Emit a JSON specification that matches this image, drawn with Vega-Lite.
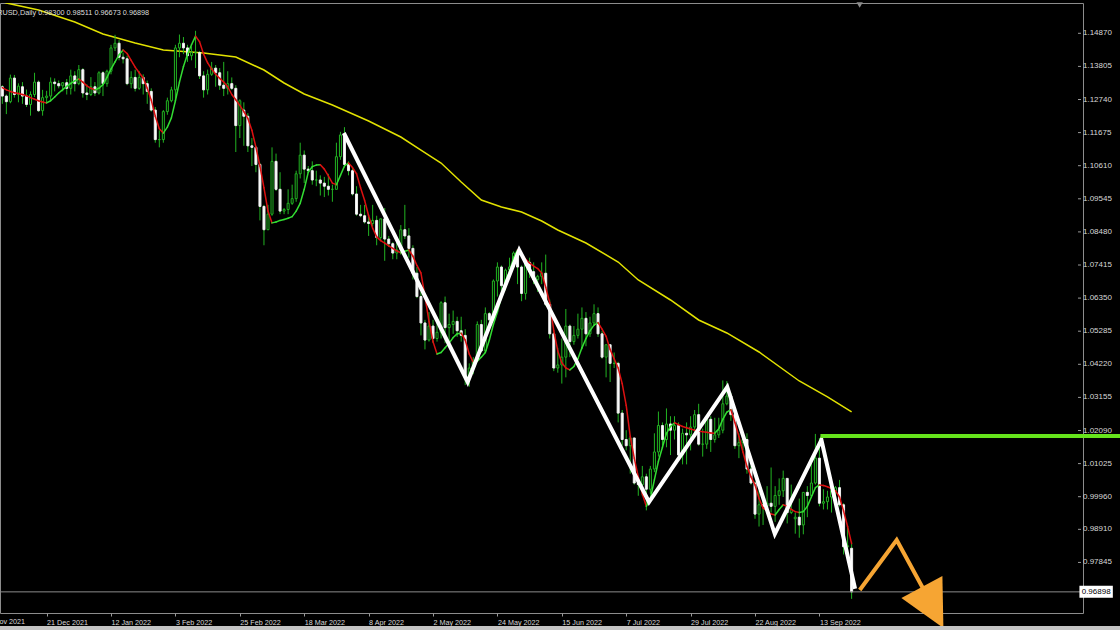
{
"$schema":"https://vega.github.io/schema/vega-lite/v6.json",
"width":1083,"height":610,
"autosize":{"type":"none"},
"padding":{"left":0,"top":3,"right":37,"bottom":17},
"background":"#000000",
"config":{"view":{"stroke":"#8c8c8c","strokeWidth":1},"font":"Liberation Sans","axis":{"labelOverlap":false,"labelBound":false}},
"datasets":{
"candles":[
{"d":"2021-12-06","i":5,"o":1.1315,"h":1.132,"l":1.126,"c":1.1285,"m":1.1312},
{"d":"2021-12-07","i":6,"o":1.1285,"h":1.129,"l":1.1227,"c":1.1267,"m":1.1305},
{"d":"2021-12-08","i":7,"o":1.1267,"h":1.1354,"l":1.1262,"c":1.1343,"m":1.13},
{"d":"2021-12-09","i":8,"o":1.1343,"h":1.1353,"l":1.128,"c":1.129,"m":1.1296},
{"d":"2021-12-10","i":9,"o":1.129,"h":1.1326,"l":1.1265,"c":1.1317,"m":1.1293},
{"d":"2021-12-13","i":10,"o":1.1315,"h":1.133,"l":1.126,"c":1.1285,"m":1.129},
{"d":"2021-12-14","i":11,"o":1.1285,"h":1.1306,"l":1.125,"c":1.1258,"m":1.1286},
{"d":"2021-12-15","i":12,"o":1.1258,"h":1.13,"l":1.1222,"c":1.129,"m":1.128},
{"d":"2021-12-16","i":13,"o":1.129,"h":1.136,"l":1.1282,"c":1.133,"m":1.1275},
{"d":"2021-12-17","i":14,"o":1.133,"h":1.1335,"l":1.1234,"c":1.1238,"m":1.127},
{"d":"2021-12-20","i":15,"o":1.1238,"h":1.1305,"l":1.1222,"c":1.128,"m":1.1266},
{"d":"2021-12-21","i":16,"o":1.128,"h":1.1302,"l":1.1262,"c":1.1285,"m":1.1263},
{"d":"2021-12-22","i":17,"o":1.1285,"h":1.1345,"l":1.127,"c":1.133,"m":1.127},
{"d":"2021-12-23","i":18,"o":1.133,"h":1.1342,"l":1.13,"c":1.1325,"m":1.1282},
{"d":"2021-12-24","i":19,"o":1.1325,"h":1.1335,"l":1.131,"c":1.1318,"m":1.1295},
{"d":"2021-12-27","i":20,"o":1.1318,"h":1.133,"l":1.13,"c":1.1328,"m":1.1306},
{"d":"2021-12-28","i":21,"o":1.1328,"h":1.134,"l":1.129,"c":1.131,"m":1.1316},
{"d":"2021-12-29","i":22,"o":1.131,"h":1.137,"l":1.129,"c":1.135,"m":1.1326},
{"d":"2021-12-30","i":23,"o":1.135,"h":1.1365,"l":1.13,"c":1.1325,"m":1.1334},
{"d":"2021-12-31","i":24,"o":1.1325,"h":1.1385,"l":1.132,"c":1.137,"m":1.134},
{"d":"2022-01-03","i":25,"o":1.137,"h":1.1375,"l":1.128,"c":1.1295,"m":1.133},
{"d":"2022-01-04","i":26,"o":1.1295,"h":1.1323,"l":1.1272,"c":1.129,"m":1.1318},
{"d":"2022-01-05","i":27,"o":1.129,"h":1.1346,"l":1.1285,"c":1.1315,"m":1.131},
{"d":"2022-01-06","i":28,"o":1.1315,"h":1.133,"l":1.1285,"c":1.1295,"m":1.1305},
{"d":"2022-01-07","i":29,"o":1.1295,"h":1.1365,"l":1.129,"c":1.136,"m":1.131},
{"d":"2022-01-10","i":30,"o":1.136,"h":1.1365,"l":1.1285,"c":1.1325,"m":1.1322},
{"d":"2022-01-11","i":31,"o":1.1325,"h":1.137,"l":1.1315,"c":1.1365,"m":1.1345},
{"d":"2022-01-12","i":32,"o":1.1365,"h":1.145,"l":1.1355,"c":1.144,"m":1.1372},
{"d":"2022-01-13","i":33,"o":1.144,"h":1.1482,"l":1.143,"c":1.1455,"m":1.1395},
{"d":"2022-01-14","i":34,"o":1.1455,"h":1.1465,"l":1.14,"c":1.141,"m":1.1418},
{"d":"2022-01-17","i":35,"o":1.141,"h":1.1425,"l":1.139,"c":1.1405,"m":1.1433},
{"d":"2022-01-18","i":36,"o":1.1405,"h":1.1415,"l":1.132,"c":1.1325,"m":1.1422},
{"d":"2022-01-19","i":37,"o":1.1325,"h":1.1365,"l":1.131,"c":1.1345,"m":1.14},
{"d":"2022-01-20","i":38,"o":1.1345,"h":1.137,"l":1.13,"c":1.131,"m":1.1378},
{"d":"2022-01-21","i":39,"o":1.131,"h":1.1365,"l":1.1305,"c":1.1345,"m":1.136},
{"d":"2022-01-24","i":40,"o":1.1345,"h":1.1355,"l":1.129,"c":1.1325,"m":1.1343},
{"d":"2022-01-25","i":41,"o":1.1325,"h":1.1335,"l":1.126,"c":1.13,"m":1.131},
{"d":"2022-01-26","i":42,"o":1.13,"h":1.131,"l":1.1235,"c":1.124,"m":1.1272},
{"d":"2022-01-27","i":43,"o":1.124,"h":1.125,"l":1.1135,"c":1.1145,"m":1.122},
{"d":"2022-01-28","i":44,"o":1.1145,"h":1.1175,"l":1.112,"c":1.1145,"m":1.118},
{"d":"2022-01-31","i":45,"o":1.1145,"h":1.124,"l":1.1135,"c":1.1235,"m":1.1166},
{"d":"2022-02-01","i":46,"o":1.1235,"h":1.128,"l":1.1225,"c":1.127,"m":1.1185},
{"d":"2022-02-02","i":47,"o":1.127,"h":1.1315,"l":1.1265,"c":1.1305,"m":1.1215},
{"d":"2022-02-03","i":48,"o":1.1305,"h":1.145,"l":1.1265,"c":1.144,"m":1.127},
{"d":"2022-02-04","i":49,"o":1.144,"h":1.1483,"l":1.141,"c":1.1455,"m":1.133},
{"d":"2022-02-07","i":50,"o":1.1455,"h":1.1475,"l":1.142,"c":1.144,"m":1.138},
{"d":"2022-02-08","i":51,"o":1.144,"h":1.145,"l":1.1395,"c":1.1415,"m":1.142},
{"d":"2022-02-09","i":52,"o":1.1415,"h":1.1445,"l":1.14,"c":1.1425,"m":1.145},
{"d":"2022-02-10","i":53,"o":1.1425,"h":1.1495,"l":1.1375,"c":1.1425,"m":1.1478},
{"d":"2022-02-11","i":54,"o":1.1425,"h":1.143,"l":1.134,"c":1.135,"m":1.146},
{"d":"2022-02-14","i":55,"o":1.135,"h":1.1365,"l":1.128,"c":1.1305,"m":1.142},
{"d":"2022-02-15","i":56,"o":1.1305,"h":1.137,"l":1.129,"c":1.1355,"m":1.1392},
{"d":"2022-02-16","i":57,"o":1.1355,"h":1.1395,"l":1.135,"c":1.1375,"m":1.1372},
{"d":"2022-02-17","i":58,"o":1.1375,"h":1.1385,"l":1.1315,"c":1.136,"m":1.1355},
{"d":"2022-02-18","i":59,"o":1.136,"h":1.1375,"l":1.1305,"c":1.132,"m":1.1342},
{"d":"2022-02-21","i":60,"o":1.132,"h":1.1395,"l":1.1285,"c":1.131,"m":1.133},
{"d":"2022-02-22","i":61,"o":1.131,"h":1.1365,"l":1.129,"c":1.1325,"m":1.1315},
{"d":"2022-02-23","i":62,"o":1.1325,"h":1.1345,"l":1.1305,"c":1.131,"m":1.129},
{"d":"2022-02-24","i":63,"o":1.131,"h":1.132,"l":1.1105,"c":1.119,"m":1.1273},
{"d":"2022-02-25","i":64,"o":1.119,"h":1.1275,"l":1.115,"c":1.127,"m":1.1255},
{"d":"2022-02-28","i":65,"o":1.124,"h":1.1265,"l":1.1125,"c":1.122,"m":1.1235},
{"d":"2022-03-01","i":66,"o":1.122,"h":1.123,"l":1.1105,"c":1.1125,"m":1.1213},
{"d":"2022-03-02","i":67,"o":1.1125,"h":1.115,"l":1.106,"c":1.112,"m":1.1175},
{"d":"2022-03-03","i":68,"o":1.112,"h":1.1125,"l":1.104,"c":1.1065,"m":1.1121},
{"d":"2022-03-04","i":69,"o":1.1065,"h":1.107,"l":1.0885,"c":1.093,"m":1.106},
{"d":"2022-03-07","i":70,"o":1.093,"h":1.0935,"l":1.0805,"c":1.0855,"m":1.099},
{"d":"2022-03-08","i":71,"o":1.0855,"h":1.0935,"l":1.0855,"c":1.0905,"m":1.0915},
{"d":"2022-03-09","i":72,"o":1.0905,"h":1.112,"l":1.09,"c":1.1075,"m":1.0877},
{"d":"2022-03-10","i":73,"o":1.1075,"h":1.11,"l":1.098,"c":1.0985,"m":1.088},
{"d":"2022-03-11","i":74,"o":1.0985,"h":1.104,"l":1.0905,"c":1.0915,"m":1.0885},
{"d":"2022-03-13","i":75,"o":1.0915,"h":1.0925,"l":1.0905,"c":1.092,"m":1.0888},
{"d":"2022-03-14","i":76,"o":1.092,"h":1.0985,"l":1.0905,"c":1.094,"m":1.0892},
{"d":"2022-03-15","i":77,"o":1.094,"h":1.1,"l":1.0935,"c":1.0955,"m":1.0897},
{"d":"2022-03-16","i":78,"o":1.0955,"h":1.1045,"l":1.0945,"c":1.1035,"m":1.0915},
{"d":"2022-03-17","i":79,"o":1.1035,"h":1.1135,"l":1.102,"c":1.1095,"m":1.094},
{"d":"2022-03-18","i":80,"o":1.1095,"h":1.111,"l":1.1005,"c":1.105,"m":1.0985},
{"d":"2022-03-20","i":81,"o":1.105,"h":1.106,"l":1.104,"c":1.1045,"m":1.104},
{"d":"2022-03-21","i":82,"o":1.1045,"h":1.1075,"l":1.1,"c":1.1015,"m":1.1058},
{"d":"2022-03-22","i":83,"o":1.1015,"h":1.1045,"l":1.0995,"c":1.1015,"m":1.1063},
{"d":"2022-03-23","i":84,"o":1.1015,"h":1.103,"l":1.0965,"c":1.1005,"m":1.1064},
{"d":"2022-03-24","i":85,"o":1.1005,"h":1.1025,"l":1.096,"c":1.0995,"m":1.105},
{"d":"2022-03-25","i":86,"o":1.0995,"h":1.1035,"l":1.0965,"c":1.0985,"m":1.1028},
{"d":"2022-03-28","i":87,"o":1.0985,"h":1.1,"l":1.0945,"c":1.0985,"m":1.1005},
{"d":"2022-03-29","i":88,"o":1.0985,"h":1.1135,"l":1.0985,"c":1.109,"m":1.1},
{"d":"2022-03-30","i":89,"o":1.109,"h":1.117,"l":1.108,"c":1.116,"m":1.103},
{"d":"2022-03-31","i":90,"o":1.116,"h":1.1185,"l":1.1055,"c":1.1065,"m":1.106},
{"d":"2022-04-01","i":91,"o":1.1065,"h":1.1075,"l":1.103,"c":1.1045,"m":1.107},
{"d":"2022-04-04","i":92,"o":1.1045,"h":1.1055,"l":1.0965,"c":1.097,"m":1.1055},
{"d":"2022-04-05","i":93,"o":1.097,"h":1.0995,"l":1.09,"c":1.0905,"m":1.1035},
{"d":"2022-04-06","i":94,"o":1.0905,"h":1.0935,"l":1.0895,"c":1.09,"m":1.099},
{"d":"2022-04-07","i":95,"o":1.09,"h":1.0935,"l":1.0875,"c":1.088,"m":1.095},
{"d":"2022-04-08","i":96,"o":1.088,"h":1.0905,"l":1.0835,"c":1.0875,"m":1.09},
{"d":"2022-04-11","i":97,"o":1.0875,"h":1.0935,"l":1.0865,"c":1.0885,"m":1.086},
{"d":"2022-04-12","i":98,"o":1.0885,"h":1.09,"l":1.0805,"c":1.083,"m":1.0832},
{"d":"2022-04-13","i":99,"o":1.083,"h":1.089,"l":1.082,"c":1.089,"m":1.082},
{"d":"2022-04-14","i":100,"o":1.089,"h":1.0925,"l":1.0755,"c":1.0825,"m":1.0812},
{"d":"2022-04-15","i":101,"o":1.0825,"h":1.0835,"l":1.08,"c":1.081,"m":1.0803},
{"d":"2022-04-18","i":102,"o":1.081,"h":1.0815,"l":1.076,"c":1.078,"m":1.0795},
{"d":"2022-04-19","i":103,"o":1.078,"h":1.082,"l":1.076,"c":1.079,"m":1.0787},
{"d":"2022-04-20","i":104,"o":1.079,"h":1.087,"l":1.0775,"c":1.0855,"m":1.0781},
{"d":"2022-04-21","i":105,"o":1.0855,"h":1.0935,"l":1.0825,"c":1.0835,"m":1.0786},
{"d":"2022-04-22","i":106,"o":1.0835,"h":1.086,"l":1.0765,"c":1.0795,"m":1.079},
{"d":"2022-04-25","i":107,"o":1.0795,"h":1.0805,"l":1.0695,"c":1.0715,"m":1.077},
{"d":"2022-04-26","i":108,"o":1.0715,"h":1.0735,"l":1.0635,"c":1.064,"m":1.074},
{"d":"2022-04-27","i":109,"o":1.064,"h":1.0655,"l":1.0515,"c":1.0555,"m":1.0716},
{"d":"2022-04-28","i":110,"o":1.0555,"h":1.0565,"l":1.047,"c":1.05,"m":1.064},
{"d":"2022-04-29","i":111,"o":1.05,"h":1.059,"l":1.0495,"c":1.0545,"m":1.056},
{"d":"2022-05-02","i":112,"o":1.0545,"h":1.0565,"l":1.049,"c":1.0505,"m":1.0495},
{"d":"2022-05-03","i":113,"o":1.0505,"h":1.0575,"l":1.0495,"c":1.0525,"m":1.0455},
{"d":"2022-05-04","i":114,"o":1.0525,"h":1.0625,"l":1.0505,"c":1.062,"m":1.046},
{"d":"2022-05-05","i":115,"o":1.062,"h":1.064,"l":1.049,"c":1.054,"m":1.0475},
{"d":"2022-05-06","i":116,"o":1.054,"h":1.0585,"l":1.0485,"c":1.055,"m":1.049},
{"d":"2022-05-09","i":117,"o":1.055,"h":1.0595,"l":1.052,"c":1.056,"m":1.0508},
{"d":"2022-05-10","i":118,"o":1.056,"h":1.0575,"l":1.051,"c":1.053,"m":1.052},
{"d":"2022-05-11","i":119,"o":1.053,"h":1.0575,"l":1.0495,"c":1.0515,"m":1.0522},
{"d":"2022-05-12","i":120,"o":1.0515,"h":1.0535,"l":1.0355,"c":1.038,"m":1.05},
{"d":"2022-05-13","i":121,"o":1.038,"h":1.0425,"l":1.035,"c":1.041,"m":1.0455},
{"d":"2022-05-16","i":122,"o":1.041,"h":1.0445,"l":1.039,"c":1.0435,"m":1.0428},
{"d":"2022-05-17","i":123,"o":1.0435,"h":1.056,"l":1.043,"c":1.055,"m":1.0432},
{"d":"2022-05-18","i":124,"o":1.055,"h":1.0565,"l":1.046,"c":1.0465,"m":1.0445},
{"d":"2022-05-19","i":125,"o":1.0465,"h":1.0605,"l":1.046,"c":1.0585,"m":1.046},
{"d":"2022-05-20","i":126,"o":1.0585,"h":1.059,"l":1.053,"c":1.0565,"m":1.05},
{"d":"2022-05-23","i":127,"o":1.0565,"h":1.0695,"l":1.056,"c":1.069,"m":1.055},
{"d":"2022-05-24","i":128,"o":1.069,"h":1.075,"l":1.064,"c":1.0735,"m":1.059},
{"d":"2022-05-25","i":129,"o":1.0735,"h":1.074,"l":1.064,"c":1.0675,"m":1.064},
{"d":"2022-05-26","i":130,"o":1.0675,"h":1.073,"l":1.066,"c":1.0725,"m":1.069},
{"d":"2022-05-27","i":131,"o":1.0725,"h":1.0765,"l":1.07,"c":1.0735,"m":1.072},
{"d":"2022-05-30","i":132,"o":1.0735,"h":1.0785,"l":1.073,"c":1.078,"m":1.0765},
{"d":"2022-05-31","i":133,"o":1.078,"h":1.0787,"l":1.068,"c":1.0735,"m":1.079},
{"d":"2022-06-01","i":134,"o":1.0735,"h":1.074,"l":1.0625,"c":1.065,"m":1.0775},
{"d":"2022-06-02","i":135,"o":1.065,"h":1.0755,"l":1.063,"c":1.075,"m":1.076},
{"d":"2022-06-03","i":136,"o":1.075,"h":1.0765,"l":1.07,"c":1.072,"m":1.0748},
{"d":"2022-06-06","i":137,"o":1.072,"h":1.075,"l":1.068,"c":1.0695,"m":1.0738},
{"d":"2022-06-07","i":138,"o":1.0695,"h":1.071,"l":1.0655,"c":1.0705,"m":1.073},
{"d":"2022-06-08","i":139,"o":1.0705,"h":1.075,"l":1.068,"c":1.0715,"m":1.0716},
{"d":"2022-06-09","i":140,"o":1.0715,"h":1.0775,"l":1.061,"c":1.0615,"m":1.067},
{"d":"2022-06-10","i":141,"o":1.0615,"h":1.063,"l":1.0505,"c":1.052,"m":1.062},
{"d":"2022-06-13","i":142,"o":1.052,"h":1.0525,"l":1.04,"c":1.041,"m":1.053},
{"d":"2022-06-14","i":143,"o":1.041,"h":1.0475,"l":1.0395,"c":1.042,"m":1.0465},
{"d":"2022-06-15","i":144,"o":1.042,"h":1.0505,"l":1.036,"c":1.0445,"m":1.0427},
{"d":"2022-06-16","i":145,"o":1.0445,"h":1.06,"l":1.038,"c":1.0545,"m":1.041},
{"d":"2022-06-17","i":146,"o":1.0545,"h":1.055,"l":1.0445,"c":1.0495,"m":1.0404},
{"d":"2022-06-20","i":147,"o":1.0495,"h":1.0545,"l":1.0485,"c":1.0515,"m":1.0415},
{"d":"2022-06-21","i":148,"o":1.0515,"h":1.0585,"l":1.0505,"c":1.0535,"m":1.044},
{"d":"2022-06-22","i":149,"o":1.0535,"h":1.0605,"l":1.047,"c":1.057,"m":1.0475},
{"d":"2022-06-23","i":150,"o":1.057,"h":1.059,"l":1.048,"c":1.052,"m":1.0505},
{"d":"2022-06-24","i":151,"o":1.052,"h":1.0575,"l":1.051,"c":1.0555,"m":1.053},
{"d":"2022-06-27","i":152,"o":1.0555,"h":1.0615,"l":1.0545,"c":1.0585,"m":1.0548},
{"d":"2022-06-28","i":153,"o":1.0585,"h":1.0605,"l":1.051,"c":1.052,"m":1.0556},
{"d":"2022-06-29","i":154,"o":1.052,"h":1.053,"l":1.044,"c":1.0445,"m":1.0535},
{"d":"2022-06-30","i":155,"o":1.0445,"h":1.0485,"l":1.038,"c":1.0485,"m":1.0512},
{"d":"2022-07-01","i":156,"o":1.0485,"h":1.0485,"l":1.0365,"c":1.0425,"m":1.047},
{"d":"2022-07-04","i":157,"o":1.0425,"h":1.046,"l":1.041,"c":1.0425,"m":1.044},
{"d":"2022-07-05","i":158,"o":1.0425,"h":1.043,"l":1.0235,"c":1.0265,"m":1.041},
{"d":"2022-07-06","i":159,"o":1.0265,"h":1.0275,"l":1.016,"c":1.018,"m":1.036},
{"d":"2022-07-07","i":160,"o":1.018,"h":1.021,"l":1.0145,"c":1.016,"m":1.029},
{"d":"2022-07-08","i":161,"o":1.016,"h":1.019,"l":1.007,"c":1.0185,"m":1.019},
{"d":"2022-07-11","i":162,"o":1.0185,"h":1.0185,"l":1.0035,"c":1.004,"m":1.012},
{"d":"2022-07-12","i":163,"o":1.004,"h":1.006,"l":0.9999,"c":1.0035,"m":1.006},
{"d":"2022-07-13","i":164,"o":1.0035,"h":1.0095,"l":0.9998,"c":1.006,"m":1.0005},
{"d":"2022-07-14","i":165,"o":1.006,"h":1.007,"l":0.9952,"c":1.002,"m":0.9965},
{"d":"2022-07-15","i":166,"o":1.002,"h":1.0095,"l":1.0005,"c":1.0085,"m":0.999},
{"d":"2022-07-18","i":167,"o":1.0085,"h":1.02,"l":1.0075,"c":1.014,"m":1.005},
{"d":"2022-07-19","i":168,"o":1.014,"h":1.027,"l":1.0125,"c":1.0225,"m":1.011},
{"d":"2022-07-20","i":169,"o":1.0225,"h":1.0235,"l":1.016,"c":1.018,"m":1.0155},
{"d":"2022-07-21","i":170,"o":1.018,"h":1.028,"l":1.0155,"c":1.023,"m":1.02},
{"d":"2022-07-22","i":171,"o":1.023,"h":1.0255,"l":1.013,"c":1.021,"m":1.0222},
{"d":"2022-07-25","i":172,"o":1.021,"h":1.0255,"l":1.018,"c":1.0225,"m":1.0234},
{"d":"2022-07-26","i":173,"o":1.0225,"h":1.0235,"l":1.0125,"c":1.013,"m":1.0228},
{"d":"2022-07-27","i":174,"o":1.013,"h":1.0215,"l":1.01,"c":1.02,"m":1.0222},
{"d":"2022-07-28","i":175,"o":1.02,"h":1.0235,"l":1.01,"c":1.0195,"m":1.0218},
{"d":"2022-07-29","i":176,"o":1.0195,"h":1.0255,"l":1.0145,"c":1.022,"m":1.0214},
{"d":"2022-08-01","i":177,"o":1.022,"h":1.0275,"l":1.0185,"c":1.026,"m":1.021},
{"d":"2022-08-02","i":178,"o":1.026,"h":1.0295,"l":1.016,"c":1.0165,"m":1.0207},
{"d":"2022-08-03","i":179,"o":1.0165,"h":1.0215,"l":1.0125,"c":1.0165,"m":1.0205},
{"d":"2022-08-04","i":180,"o":1.0165,"h":1.0255,"l":1.015,"c":1.0245,"m":1.0203},
{"d":"2022-08-05","i":181,"o":1.0245,"h":1.0255,"l":1.014,"c":1.018,"m":1.0201},
{"d":"2022-08-08","i":182,"o":1.018,"h":1.025,"l":1.017,"c":1.0195,"m":1.02},
{"d":"2022-08-09","i":183,"o":1.0195,"h":1.025,"l":1.0185,"c":1.021,"m":1.0215},
{"d":"2022-08-10","i":184,"o":1.021,"h":1.037,"l":1.02,"c":1.0295,"m":1.0245},
{"d":"2022-08-11","i":185,"o":1.0295,"h":1.0368,"l":1.029,"c":1.032,"m":1.0268},
{"d":"2022-08-12","i":186,"o":1.032,"h":1.033,"l":1.024,"c":1.026,"m":1.0276},
{"d":"2022-08-15","i":187,"o":1.026,"h":1.0265,"l":1.015,"c":1.016,"m":1.0235},
{"d":"2022-08-16","i":188,"o":1.016,"h":1.02,"l":1.012,"c":1.017,"m":1.019},
{"d":"2022-08-17","i":189,"o":1.017,"h":1.02,"l":1.0145,"c":1.018,"m":1.014},
{"d":"2022-08-18","i":190,"o":1.018,"h":1.02,"l":1.007,"c":1.0085,"m":1.0093},
{"d":"2022-08-19","i":191,"o":1.0085,"h":1.0095,"l":1.0035,"c":1.004,"m":1.006},
{"d":"2022-08-22","i":192,"o":1.004,"h":1.0045,"l":0.9925,"c":0.994,"m":1.0034},
{"d":"2022-08-23","i":193,"o":0.994,"h":1.0015,"l":0.99,"c":0.997,"m":0.999},
{"d":"2022-08-24","i":194,"o":0.997,"h":0.9985,"l":0.9905,"c":0.9965,"m":0.996},
{"d":"2022-08-25","i":195,"o":0.9965,"h":1.003,"l":0.995,"c":0.9975,"m":0.995},
{"d":"2022-08-26","i":196,"o":0.9975,"h":1.009,"l":0.9945,"c":0.9965,"m":0.994},
{"d":"2022-08-29","i":197,"o":0.9965,"h":1.003,"l":0.9915,"c":1.0,"m":0.9937},
{"d":"2022-08-30","i":198,"o":1.0,"h":1.0055,"l":0.997,"c":1.0015,"m":0.9955},
{"d":"2022-08-31","i":199,"o":1.0015,"h":1.008,"l":0.9995,"c":1.0055,"m":0.997},
{"d":"2022-09-01","i":200,"o":1.0055,"h":1.0055,"l":0.991,"c":0.9945,"m":0.9965},
{"d":"2022-09-02","i":201,"o":0.9945,"h":1.0035,"l":0.994,"c":0.9955,"m":0.9955},
{"d":"2022-09-05","i":202,"o":0.9925,"h":0.9945,"l":0.9877,"c":0.993,"m":0.9948},
{"d":"2022-09-06","i":203,"o":0.993,"h":0.999,"l":0.9864,"c":0.9905,"m":0.9945},
{"d":"2022-09-07","i":204,"o":0.9905,"h":1.001,"l":0.9875,"c":1.001,"m":0.9948},
{"d":"2022-09-08","i":205,"o":1.001,"h":1.003,"l":0.993,"c":1.0,"m":0.9965},
{"d":"2022-09-09","i":206,"o":1.0,"h":1.011,"l":0.9995,"c":1.004,"m":0.9995},
{"d":"2022-09-12","i":207,"o":1.004,"h":1.0198,"l":1.0035,"c":1.012,"m":1.0025},
{"d":"2022-09-13","i":208,"o":1.012,"h":1.0185,"l":0.9965,"c":0.9975,"m":1.0034},
{"d":"2022-09-14","i":209,"o":0.9975,"h":1.002,"l":0.9955,"c":0.998,"m":1.0032},
{"d":"2022-09-15","i":210,"o":0.998,"h":1.0015,"l":0.9955,"c":0.9995,"m":1.0028},
{"d":"2022-09-16","i":211,"o":0.9995,"h":1.0035,"l":0.9945,"c":1.0015,"m":1.0022},
{"d":"2022-09-19","i":212,"o":1.0015,"h":1.003,"l":0.9965,"c":1.0025,"m":1.0015},
{"d":"2022-09-20","i":213,"o":1.0025,"h":1.005,"l":0.9965,"c":0.997,"m":0.9995},
{"d":"2022-09-21","i":214,"o":0.997,"h":0.9975,"l":0.981,"c":0.9835,"m":0.995},
{"d":"2022-09-22","i":215,"o":0.9835,"h":0.9905,"l":0.981,"c":0.9838,"m":0.99},
{"d":"2022-09-23","i":216,"o":0.983,"h":0.98511,"l":0.96673,"c":0.96898,"m":0.9845}
],
"longma":[
{"i":5,"v":1.159},{"i":6,"v":1.15845},{"i":14,"v":1.1562},{"i":23,"v":1.15234},{"i":30,"v":1.14848},{"i":38,"v":1.14558},{"i":45,"v":1.14333},{"i":55,"v":1.14236},{"i":63,"v":1.14107},{"i":70,"v":1.13689},{"i":75,"v":1.13271},{"i":80,"v":1.12917},{"i":87,"v":1.12563},{"i":96,"v":1.12048},{"i":104,"v":1.11533},{"i":109,"v":1.11115},{"i":114,"v":1.10697},{"i":119,"v":1.10086},{"i":124,"v":1.09506},{"i":129,"v":1.09281},{"i":134,"v":1.09121},{"i":139,"v":1.08831},{"i":143,"v":1.08541},{"i":150,"v":1.08123},{"i":158,"v":1.07512},{"i":163,"v":1.06933},{"i":171,"v":1.06289},{"i":178,"v":1.05646},{"i":185,"v":1.05228},{"i":193,"v":1.04616},{"i":203,"v":1.03683},{"i":210,"v":1.03169},{"i":216,"v":1.02686}
],
"zigzag":[
{"i":89.84,"v":1.11662},{"i":120.61,"v":1.03651},{"i":133.41,"v":1.07898},{"i":165.66,"v":0.99789},{"i":185.11,"v":1.0349},{"i":196.92,"v":0.9876},{"i":208.5,"v":1.01785},{"i":216.86,"v":0.96997}
],
"level":[{"i":208.25,"i2":286,"v":1.01913}],
"forecast":[{"i":218.02,"v":0.96958},{"i":227.2,"v":0.98567},{"i":234.5,"v":0.9683}],
"arrowhead":[{"i":235.25,"v":0.96614}],
"last":[{"price":0.96898,"label":"0.96898"}],
"header":[{"label":"EURUSD,Daily 0.98300 0.98511 0.96673 0.96898"}],
"cutdate":[{"i":0,"label":"29 Nov 2021"}],
"pricescale":[
{"v":0.97845,"t":"0.97845"},{"v":0.9891,"t":"0.98910"},{"v":0.9996,"t":"0.99960"},{"v":1.01025,"t":"1.01025"},{"v":1.0209,"t":"1.02090"},{"v":1.03155,"t":"1.03155"},{"v":1.0422,"t":"1.04220"},{"v":1.05285,"t":"1.05285"},{"v":1.0635,"t":"1.06350"},{"v":1.07415,"t":"1.07415"},{"v":1.0848,"t":"1.08480"},{"v":1.09545,"t":"1.09545"},{"v":1.1061,"t":"1.10610"},{"v":1.11675,"t":"1.11675"},{"v":1.1274,"t":"1.12740"},{"v":1.13805,"t":"1.13805"},{"v":1.1487,"t":"1.14870"}
]
},
"layer":[
{"data":{"name":"longma"},"mark":{"type":"line","color":"#e2e200","strokeWidth":1.5,"clip":true},
"encoding":{
"x":{"field":"i","type":"quantitative","scale":{"domain":[5.66,272.245],"nice":false,"zero":false},
"axis":{"values":[16,32,48,64,80,96,112,128,144,160,176,192,208],
"labelExpr":"['29 Nov 2021','21 Dec 2021','12 Jan 2022','3 Feb 2022','25 Feb 2022','18 Mar 2022','8 Apr 2022','2 May 2022','24 May 2022','15 Jun 2022','7 Jul 2022','29 Jul 2022','22 Aug 2022','13 Sep 2022'][round(datum.value/16)]",
"labelAlign":"left","labelBaseline":"top","labelPadding":2,"labelColor":"#d8d8d8","labelFontSize":7.2,"labelFont":"Liberation Sans","tickColor":"#9a9a9a","tickSize":3,"domain":false,"grid":false,"title":null,"labelOverlap":false,"labelFlush":false}},
"y":{"field":"v","type":"quantitative","scale":{"domain":[0.96218,1.15845],"nice":false,"zero":false},"axis":null}}},
{"data":{"name":"candles"},"mark":{"type":"rule","color":"#22b322","strokeWidth":1,"clip":true},
"encoding":{"x":{"field":"i","type":"quantitative"},"y":{"field":"l","type":"quantitative"},"y2":{"field":"h"}}},
{"data":{"name":"candles"},"mark":{"type":"bar","width":2,"strokeWidth":1,"clip":true},
"encoding":{"x":{"field":"i","type":"quantitative"},"y":{"field":"o","type":"quantitative"},"y2":{"field":"c"},
"fill":{"condition":{"test":"datum.c < datum.o","value":"#ffffff"},"value":"#000000"},
"stroke":{"condition":{"test":"datum.c < datum.o","value":"#eeeeee"},"value":"#22b322"}}},
{"data":{"name":"candles"},
"transform":[{"window":[{"op":"lead","field":"m","as":"m2"},{"op":"lead","field":"i","as":"i2"}],"sort":[{"field":"i","order":"ascending"}]},{"filter":"isValid(datum.m2)"}],
"mark":{"type":"rule","strokeWidth":1.5,"strokeCap":"round","clip":true},
"encoding":{"x":{"field":"i","type":"quantitative"},"x2":{"field":"i2"},"y":{"field":"m","type":"quantitative"},"y2":{"field":"m2"},
"color":{"condition":{"test":"datum.m2 >= datum.m","value":"#33dd33"},"value":"#dd1111"}}},
{"data":{"name":"zigzag"},"mark":{"type":"line","color":"#ffffff","strokeWidth":4,"strokeJoin":"miter","clip":false},
"encoding":{"x":{"field":"i","type":"quantitative"},"y":{"field":"v","type":"quantitative"}}},
{"data":{"name":"last"},"mark":{"type":"rule","color":"#8c8c8c","strokeWidth":1},
"encoding":{"y":{"field":"price","type":"quantitative"}}},
{"data":{"name":"pricescale"},"mark":{"type":"rule","color":"#9a9a9a","strokeWidth":1,"clip":false},
"encoding":{"x":{"datum":272.245,"type":"quantitative"},"x2":{"datum":272.99},"y":{"field":"v","type":"quantitative"}}},
{"data":{"name":"pricescale"},"mark":{"type":"text","color":"#d8d8d8","fontSize":8,"font":"Liberation Sans","align":"left","baseline":"middle","dx":5,"clip":false},
"encoding":{"x":{"datum":272.245,"type":"quantitative"},"y":{"field":"v","type":"quantitative"},"text":{"field":"t"}}},
{"data":{"name":"level"},"mark":{"type":"rule","color":"#66e41c","strokeWidth":4,"clip":false},
"encoding":{"x":{"field":"i","type":"quantitative"},"x2":{"field":"i2"},"y":{"field":"v","type":"quantitative"}}},
{"data":{"name":"forecast"},"mark":{"type":"line","color":"#f6a533","strokeWidth":4,"strokeJoin":"miter","clip":false},
"encoding":{"x":{"field":"i","type":"quantitative"},"y":{"field":"v","type":"quantitative"}}},
{"data":{"name":"arrowhead"},"mark":{"type":"point","shape":"M-0.989,-0.096L0.475,-0.882L0.511,0.975Z","size":3136,"filled":true,"color":"#f6a533","opacity":1,"clip":false},
"encoding":{"x":{"field":"i","type":"quantitative"},"y":{"field":"v","type":"quantitative"}}},
{"data":{"name":"last"},"mark":{"type":"rect","color":"#ffffff","clip":false},
"encoding":{"x":{"datum":272.6,"type":"quantitative"},"x2":{"datum":280.9},"y":{"datum":0.97091,"type":"quantitative"},"y2":{"datum":0.96705}}},
{"data":{"name":"last"},"mark":{"type":"text","color":"#000000","fontSize":8,"font":"Liberation Sans","align":"center","baseline":"middle","clip":false},
"encoding":{"x":{"datum":276.75,"type":"quantitative"},"y":{"field":"price","type":"quantitative"},"text":{"field":"label"}}},
{"data":{"name":"cutdate"},"mark":{"type":"text","color":"#d8d8d8","fontSize":7.2,"font":"Liberation Sans","align":"left","baseline":"middle","dx":2,"clip":false},
"encoding":{"x":{"field":"i","type":"quantitative"},"y":{"datum":0.95929,"type":"quantitative"},"text":{"field":"label"}}},
{"data":{"name":"header"},"mark":{"type":"text","color":"#dddddd","fontSize":7.3,"font":"Liberation Sans","align":"left","baseline":"alphabetic","clip":false},
"encoding":{"x":{"datum":1.2,"type":"quantitative"},"y":{"datum":1.15465,"type":"quantitative"},"text":{"field":"label"}}},
{"data":{"name":"last"},"mark":{"type":"rect","color":"#c4c4c4","clip":false},
"encoding":{"x":{"datum":0,"type":"quantitative"},"x2":{"datum":290},"y":{"datum":0.958,"type":"quantitative"},"y2":{"datum":0.9563}}},
{"data":{"name":"last"},"mark":{"type":"point","shape":"triangle-down","size":40,"filled":true,"color":"#8c8c8c","opacity":1,"clip":false},
"encoding":{"x":{"datum":218,"type":"quantitative"},"y":{"datum":1.1578,"type":"quantitative"}}}
]
}
